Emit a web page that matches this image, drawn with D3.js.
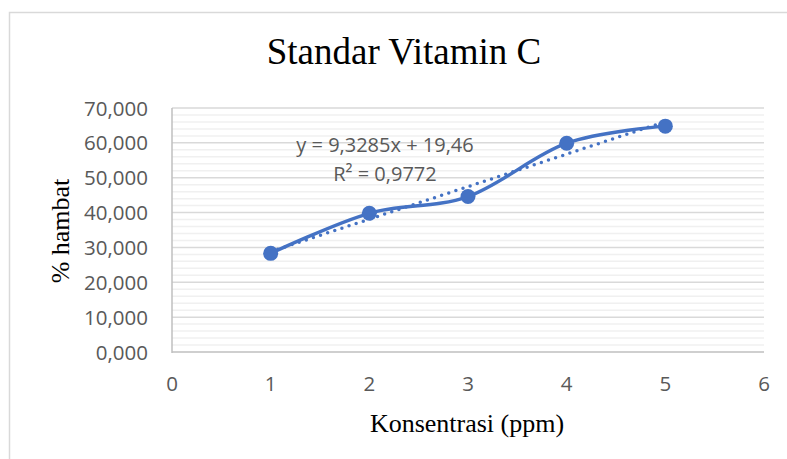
<!DOCTYPE html>
<html>
<head>
<meta charset="utf-8">
<script src="https://cdn.jsdelivr.net/npm/d3@7"></script>
<style>
  body { margin: 0; background: #fff; }
  svg { display: block; }
</style>
</head>
<body>
<svg width="787" height="459"></svg>
<script>
// data
var konsentrasi = [1, 2, 3, 4, 5];
var hambat = [28.3, 39.8, 44.6, 59.9, 64.8];
var yTicks = [0, 10, 20, 30, 40, 50, 60, 70];
var xTicks = [0, 1, 2, 3, 4, 5, 6];
var slope = 9.3285, intercept = 19.46;
var eqLabel = "y = 9,3285x + 19,46";
var r2Label = "R² = 0,9772";

var svg = d3.select("svg");
var blue = "#4472C4";
var sans = "'Open Sans', sans-serif";
var serif = "'Liberation Serif', 'Times New Roman', serif";

var x = d3.scaleLinear().domain([0, 6]).range([172, 764]);
var y = d3.scaleLinear().domain([0, 70]).range([352, 108]);

var idLocale = d3.formatLocale({ decimal: ",", thousands: ".", grouping: [3], currency: ["", ""] });
var fmt = idLocale.format(".3f");

// chart frame
svg.append("rect")
  .attr("x", 9.5).attr("y", 12.5)
  .attr("width", 820).attr("height", 470)
  .attr("fill", "none").attr("stroke", "#d9d9d9").attr("stroke-width", 1.5);

// minor gridlines
var minor = d3.range(0, 70.001, 2).filter(function(v) { return v % 10 != 0; });
svg.append("g").selectAll("line").data(minor).enter().append("line")
  .attr("x1", x(0)).attr("x2", x(6))
  .attr("y1", d => y(d)).attr("y2", d => y(d))
  .attr("stroke", "#f0f0f0").attr("stroke-width", 1.5);

// major gridlines
svg.append("g").selectAll("line").data(yTicks.slice(1)).enter().append("line")
  .attr("x1", x(0)).attr("x2", x(6))
  .attr("y1", d => y(d)).attr("y2", d => y(d))
  .attr("stroke", "#d9d9d9").attr("stroke-width", 1.5);

// axis lines
svg.append("line")
  .attr("x1", x(0)).attr("x2", x(0)).attr("y1", y(70)).attr("y2", y(0) + 1)
  .attr("stroke", "#bfbfbf").attr("stroke-width", 1.5);
svg.append("line")
  .attr("x1", x(0)).attr("x2", x(6)).attr("y1", y(0)).attr("y2", y(0))
  .attr("stroke", "#bfbfbf").attr("stroke-width", 1.5);

// tick labels
svg.append("g").selectAll("text").data(yTicks).enter().append("text")
  .attr("x", 148).attr("y", d => y(d) + 7.5)
  .attr("text-anchor", "end")
  .attr("font-family", sans).attr("font-size", 20.5)
  .attr("fill", "#595959")
  .text(d => fmt(d));

svg.append("g").selectAll("text").data(xTicks).enter().append("text")
  .attr("x", d => x(d)).attr("y", 391)
  .attr("text-anchor", "middle")
  .attr("font-family", sans).attr("font-size", 20.5)
  .attr("fill", "#595959")
  .text(d => d);

// titles
svg.append("text")
  .attr("x", 404).attr("y", 64)
  .attr("text-anchor", "middle")
  .attr("font-family", serif).attr("font-size", 37)
  .attr("fill", "#000")
  .text("Standar Vitamin C");

svg.append("text")
  .attr("x", 467).attr("y", 432)
  .attr("text-anchor", "middle")
  .attr("font-family", serif).attr("font-size", 26)
  .text("Konsentrasi (ppm)");

svg.append("text")
  .attr("transform", "translate(69,231) rotate(-90)")
  .attr("text-anchor", "middle")
  .attr("font-family", serif).attr("font-size", 26)
  .text("% hambat");

// trendline
svg.append("line")
  .attr("x1", x(1)).attr("y1", y(slope * 1 + intercept))
  .attr("x2", x(5)).attr("y2", y(slope * 5 + intercept))
  .attr("stroke", blue).attr("stroke-width", 3.5)
  .attr("stroke-linecap", "round").attr("stroke-dasharray", "0 7.5");

// smoothed series
var pts = konsentrasi.map((k, i) => [k, hambat[i]]);
var line = d3.line()
  .x(d => x(d[0])).y(d => y(d[1]))
  .curve(d3.curveCardinal.tension(0));
svg.append("path").datum(pts)
  .attr("d", line)
  .attr("fill", "none").attr("stroke", blue).attr("stroke-width", 3.4)
  .attr("stroke-linecap", "round");

svg.append("g").selectAll("circle").data(pts).enter().append("circle")
  .attr("cx", d => x(d[0])).attr("cy", d => y(d[1]))
  .attr("r", 7.5).attr("fill", blue);

// equation label
svg.append("text")
  .attr("x", 385).attr("y", 152)
  .attr("text-anchor", "middle")
  .attr("font-family", sans).attr("font-size", 20)
  .attr("fill", "#595959")
  .text(eqLabel);
svg.append("text")
  .attr("x", 385).attr("y", 181)
  .attr("text-anchor", "middle")
  .attr("font-family", sans).attr("font-size", 20)
  .attr("fill", "#595959")
  .text(r2Label);
</script>
</body>
</html>
